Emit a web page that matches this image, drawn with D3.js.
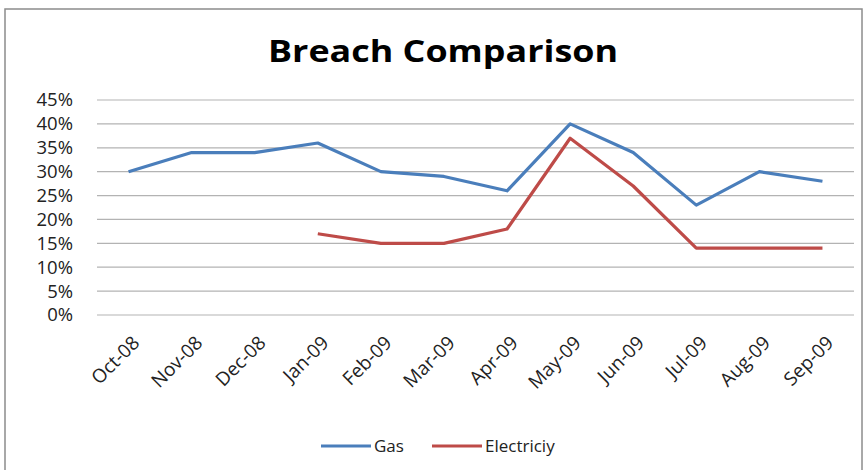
<!DOCTYPE html>
<html>
<head>
<meta charset="utf-8">
<script src="https://cdn.jsdelivr.net/npm/d3@7"></script>
<style>
  body { margin: 0; background: #fff; }
  svg { display: block; font-family: "Open Sans", sans-serif; }
</style>
</head>
<body>
<div class="my_dataviz"></div>
<script>
// chart data
const months = ["Oct-08", "Nov-08", "Dec-08", "Jan-09", "Feb-09", "Mar-09",
                "Apr-09", "May-09", "Jun-09", "Jul-09", "Aug-09", "Sep-09"];
const gas = [30, 34, 34, 36, 30, 29, 26, 40, 34, 23, 30, 28];
const electricity = [null, null, null, 17, 15, 15, 18, 37, 27, 14, 14, 14];
const yTicks = [0, 5, 10, 15, 20, 25, 30, 35, 40, 45];

const width = 867, height = 470;
const margin = {top: 100, right: 13, bottom: 155, left: 97};
const innerW = width - margin.left - margin.right,
      innerH = height - margin.top - margin.bottom;

const svg = d3.select(".my_dataviz")
  .append("svg")
  .attr("width", width)
  .attr("height", height);

// outer frame
svg.append("rect")
  .attr("x", 5).attr("y", 9)
  .attr("width", 857).attr("height", 470)
  .attr("fill", "none")
  .attr("stroke", "#8c8c8c")
  .attr("stroke-width", 1.5);

svg.append("text")
  .attr("x", 443).attr("y", 62)
  .attr("text-anchor", "middle")
  .attr("font-weight", "bold")
  .attr("font-size", 30)
  .attr("textLength", 350)
  .attr("lengthAdjust", "spacingAndGlyphs")
  .attr("fill", "#000")
  .text("Breach Comparison");

const g = svg.append("g")
  .attr("transform", "translate(" + margin.left + "," + margin.top + ")");

const x = d3.scaleBand()
  .domain(months)
  .range([0, innerW]);

const y = d3.scaleLinear()
  .domain([0, 45])
  .range([innerH, 0]);

// gridlines
g.append("g")
  .selectAll("line")
  .data(yTicks)
  .enter()
  .append("line")
  .attr("x1", 0).attr("x2", innerW)
  .attr("y1", d => y(d)).attr("y2", d => y(d))
  .attr("stroke", "#b3b3b3")
  .attr("stroke-width", 1.2);

// y axis
const yAxis = g.append("g")
  .attr("transform", "translate(-21,0)")
  .call(d3.axisLeft(y).tickValues(yTicks).tickSize(0).tickFormat(d => d + "%"));
yAxis.attr("font-family", "'Open Sans', sans-serif");
yAxis.select(".domain").remove();
yAxis.selectAll("text")
  .attr("font-size", 18.5)
  .attr("fill", "#222");

// x axis
const xAxis = g.append("g")
  .attr("transform", "translate(0," + innerH + ")")
  .call(d3.axisBottom(x).tickSize(0));
xAxis.attr("font-family", "'Open Sans', sans-serif");
xAxis.select(".domain").remove();
xAxis.selectAll("text")
  .attr("font-size", 19)
  .attr("fill", "#222")
  .attr("text-anchor", "end")
  .attr("dy", 0)
  .attr("transform", "translate(10,27) rotate(-45)");

const line = d3.line()
  .defined(d => d != null)
  .x((d, i) => x(months[i]) + x.bandwidth() / 2)
  .y(d => y(d));

const series = [
  {name: "Gas", values: gas, color: "#4a7ebb"},
  {name: "Electriciy", values: electricity, color: "#be4b48"}
];

series.forEach(s => {
  g.append("path")
    .datum(s.values)
    .attr("fill", "none")
    .attr("stroke", s.color)
    .attr("stroke-width", 3.2)
    .attr("stroke-linejoin", "round")
    .attr("d", line);
});

// legend
const legend = svg.append("g").attr("transform", "translate(321,446)");
const legX = [0, 111];
series.forEach((s, i) => {
  const lg = legend.append("g").attr("transform", "translate(" + legX[i] + ",0)");
  lg.append("line")
    .attr("x1", 0).attr("x2", 50)
    .attr("stroke", s.color)
    .attr("stroke-width", 3.2);
  lg.append("text")
    .attr("x", 53).attr("y", 6)
    .attr("font-size", 17)
    .attr("fill", "#222")
    .text(s.name);
});
</script>
</body>
</html>
